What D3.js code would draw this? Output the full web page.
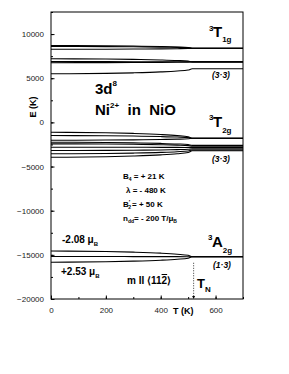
<!DOCTYPE html>
<html>
<head>
<meta charset="utf-8">
<script src="https://cdn.jsdelivr.net/npm/d3@7"></script>
<style>
	body { margin: 0; background: #fff; }
	svg { font-family: "Liberation Sans", Arial, sans-serif; }
	.tick-label { font-size: 8px; fill: #222; }
	.lbl { font-weight: bold; fill: #000; }
</style>
</head>
<body>
<script>
var temps = [0, 200, 300, 400, 460, 500, 515, 700];
var tN = 520;

// 3T1g manifold (K)
var t1gLevels = [
	[8700, 8676, 8643, 8589, 8535, 8478, 8400, 8400],
	[8600, 8584, 8562, 8526, 8490, 8452, 8400, 8400],
	[8280, 8290, 8303, 8324, 8346, 8369, 8400, 8400],
	[7200, 7172, 7134, 7071, 7008, 6941, 6850, 6850],
	[6880, 6878, 6874, 6869, 6864, 6858, 6850, 6850],
	[6760, 6767, 6777, 6793, 6810, 6827, 6850, 6850],
	[5500, 5546, 5610, 5715, 5819, 5929, 6080, 6080]
];

// 3T2g manifold (K)
var t2gLevels = [
	[-1120, -1174, -1249, -1372, -1494, -1623, -1800, -1800],
	[-1490, -1515, -1549, -1605, -1661, -1719, -1800, -1800],
	[-2020, -2002, -1978, -1939, -1899, -1857, -1800, -1800],
	[-2250, -2278, -2317, -2380, -2443, -2509, -2600, -2600],
	[-2430, -2452, -2481, -2530, -2579, -2630, -2700, -2700],
	[-2810, -2813, -2818, -2825, -2832, -2840, -2850, -2850],
	[-3190, -3175, -3154, -3120, -3086, -3049, -3000, -3000],
	[-3560, -3525, -3476, -3397, -3318, -3234, -3120, -3120],
	[-3950, -3892, -3811, -3680, -3549, -3410, -3220, -3220]
];

// 3A2g ground triplet (K)
var a2gLevels = [
	[-14570, -14622, -14694, -14810, -14928, -15051, -15220, -15220],
	[-15190, -15192, -15196, -15201, -15207, -15212, -15220, -15220],
	[-15830, -15781, -15714, -15604, -15495, -15379, -15220, -15220]
];

var xTicks = [0, 200, 400, 600];
var yTicks = [-20000, -15000, -10000, -5000, 0, 5000, 10000];

var width = 289, height = 374;
var margin = { top: 12, right: 46, bottom: 75, left: 51 };
var w = width - margin.left - margin.right;
var h = height - margin.top - margin.bottom;

var svg = d3.select('body').append('svg')
	.attr('width', width)
	.attr('height', height);

var g = svg.append('g')
	.attr('transform', 'translate(' + margin.left + ',' + margin.top + ')');

var xScale = d3.scaleLinear().domain([0, 700]).range([0, w]);
var yScale = d3.scaleLinear().domain([-20000, 12500]).range([h, 0]);

var line = d3.line()
	.x(function(d, i) { return xScale(temps[i]); })
	.y(function(d) { return yScale(d); })
	.curve(d3.curveMonotoneX);

var allLevels = t1gLevels.concat(t2gLevels, a2gLevels);
g.selectAll('path.level')
	.data(allLevels)
	.enter()
	.append('path')
	.attr('class', 'level')
	.attr('d', line)
	.attr('fill', 'none')
	.attr('stroke', '#000')
	.attr('stroke-width', 1.1);

// axes with inward ticks
function styleAxis(sel) {
	sel.select('.domain').remove();
	sel.selectAll('.tick line').attr('stroke', '#000');
	sel.selectAll('.tick text').attr('class', 'tick-label').attr('font-family', null).attr('font-size', null);
}

g.append('g')
	.attr('transform', 'translate(0,' + h + ')')
	.call(d3.axisBottom(xScale).tickValues(d3.range(0, 701, 100)).tickFormat('').tickSizeInner(-2).tickSizeOuter(0))
	.call(styleAxis);
g.append('g')
	.attr('transform', 'translate(0,' + h + ')')
	.call(d3.axisBottom(xScale).tickValues(xTicks).tickFormat(d3.format('d')).tickSizeInner(-3.5).tickSizeOuter(0).tickPadding(8))
	.call(styleAxis);

g.append('g')
	.call(d3.axisLeft(yScale).tickValues(d3.range(-20000, 12501, 2500)).tickFormat('').tickSizeInner(-2).tickSizeOuter(0))
	.call(styleAxis);
g.append('g')
	.call(d3.axisLeft(yScale).tickValues(yTicks).tickFormat(d3.format('d')).tickSizeInner(-3.5).tickSizeOuter(0).tickPadding(7))
	.call(styleAxis);

g.append('rect')
	.attr('width', w)
	.attr('height', h)
	.attr('fill', 'none')
	.attr('stroke', '#000')
	.attr('stroke-width', 1);

// Neel temperature marker
var yTop = yScale(-15220) + 6;
g.append('line')
	.attr('x1', xScale(tN)).attr('x2', xScale(tN))
	.attr('y1', yTop).attr('y2', h - 3)
	.attr('stroke', '#000')
	.attr('stroke-width', 0.8)
	.attr('stroke-dasharray', '1,1.5');
g.append('path')
	.attr('d', 'M' + (xScale(tN) - 1.5) + ',' + (h - 3) + 'L' + (xScale(tN) + 1.5) + ',' + (h - 3) + 'L' + xScale(tN) + ',' + h + 'Z')
	.attr('fill', '#000');

// axis titles
svg.append('text')
	.attr('class', 'lbl')
	.attr('font-size', 9)
	.attr('text-anchor', 'middle')
	.attr('transform', 'translate(36,107) rotate(-90)')
	.text('E (K)');
svg.append('text')
	.attr('class', 'lbl')
	.attr('font-size', 9)
	.attr('x', 173)
	.attr('y', 314)
	.text('T (K)');

// text helpers
function addText(x, y, size, parts, italic) {
	var t = svg.append('text')
		.attr('class', 'lbl')
		.attr('x', x)
		.attr('y', y)
		.attr('font-size', size)
		.style('white-space', 'pre');
	if (italic) t.attr('font-style', 'italic');
	parts.forEach(function(p) {
		var ts = t.append('tspan').text(p.s);
		if (p.dy) ts.attr('dy', p.dy);
		if (p.size) ts.attr('font-size', p.size);
		if (p.dx) ts.attr('dx', p.dx);
		if (p.over) ts.attr('text-decoration', 'overline');
	});
	return t;
}

addText(95, 94, 15, [{ s: '3d' }, { s: '8', size: 8, dy: -8 }]);
addText(95, 115, 15, [{ s: 'Ni' }, { s: '2+', size: 8, dy: -7 }, { s: '  in  NiO', dy: 7 }]);

addText(209, 31, 8, [{ s: '3' }]);
addText(213, 37, 15, [{ s: 'T' }, { s: '1g', size: 8, dy: 5 }]);
addText(212, 78, 8.5, [{ s: '(3\u00b73)' }], true);

addText(209, 120, 8, [{ s: '3' }]);
addText(213, 127, 15, [{ s: 'T' }, { s: '2g', size: 8, dy: 6 }]);
addText(212, 162, 8.5, [{ s: '(3\u00b73)' }], true);

addText(208, 240, 8, [{ s: '3' }]);
addText(212, 247, 15, [{ s: 'A' }, { s: '2g', size: 8, dy: 6 }]);
addText(213, 268, 8.5, [{ s: '(1\u00b73)' }], true);

addText(123, 179, 8, [{ s: 'B' }, { s: '4', size: 5, dy: 2 }, { s: ' = + 21 K', dy: -2 }]);
addText(126, 193, 8, [{ s: '\u03bb = - 480 K' }]);
addText(123, 207, 8, [{ s: 'B' }, { s: '\u2032', size: 6, dy: -3 }, { s: '2', size: 5, dx: -2, dy: 5 }, { s: '= + 50 K', dx: 1, dy: -2 }]);
addText(123, 221, 8, [{ s: 'n' }, { s: 'dd', size: 5, dy: 2 }, { s: '= - 200 T/\u03bc', dy: -2 }, { s: 'B', size: 5, dy: 2 }]);

addText(62, 243, 10, [{ s: '-2.08 \u03bc' }, { s: 'B', size: 6, dy: 3 }]);
addText(61, 275, 10, [{ s: '+2.53 \u03bc' }, { s: 'B', size: 6, dy: 3 }]);
addText(127, 284, 10, [{ s: 'm II \u27e811' }, { s: '2', over: true }, { s: '\u27e9' }]);
addText(197, 288, 13, [{ s: 'T' }, { s: 'N', size: 8, dy: 4 }]);
</script>
</body>
</html>
